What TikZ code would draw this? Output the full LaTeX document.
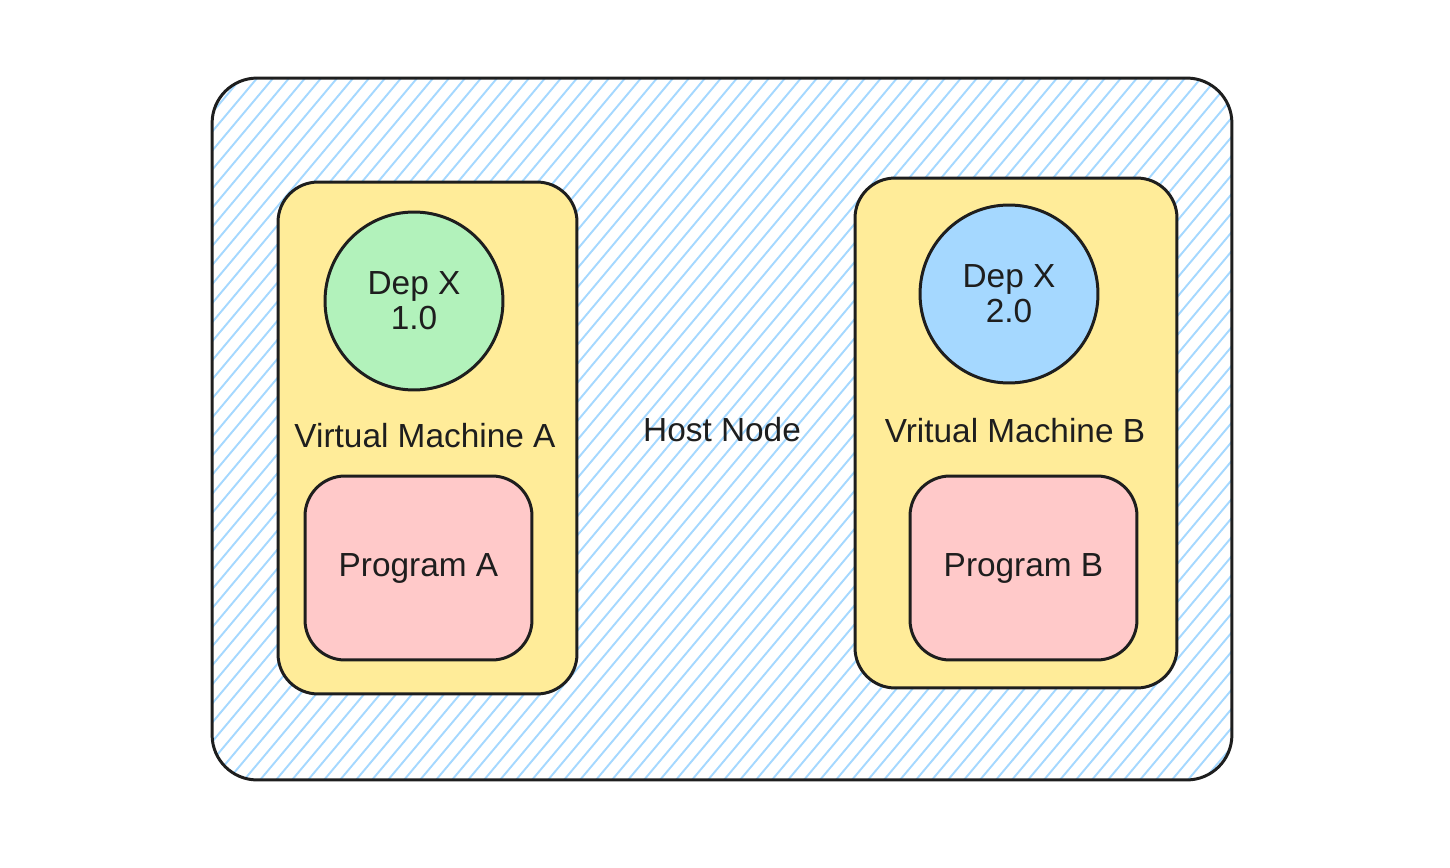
\documentclass[tikz,border=0pt]{standalone}
\usepackage{fontspec}
\setmainfont{Liberation Sans}
\usepackage{tikz}

\definecolor{inkgray}{HTML}{1E1E1E}
\definecolor{hatchblue}{HTML}{A5D8FF}
\definecolor{vmyellow}{HTML}{FFEC99}
\definecolor{depgreen}{HTML}{B2F2BB}
\definecolor{depblue}{HTML}{A5D8FF}
\definecolor{progpink}{HTML}{FFC9C9}

\begin{document}
\begin{tikzpicture}[x=0.02cm,y=-0.02cm,
        every node/.style={font=\fontsize{19}{20}\selectfont, text=inkgray},
        box/.style={draw=inkgray, line width=1.7pt, rounded corners=0.8cm, inner sep=0pt},
        hatch/.style={path picture={
            \foreach \i in {-38,...,66}
                \draw[hatchblue, line width=1.1pt]
                    ([xshift=\i*0.32cm]path picture bounding box.south west) -- ++(50:20cm);
        }},
        dep/.style={draw=inkgray, line width=1.7pt, circle, minimum size=3.56cm, inner sep=0pt, align=center}]
        \useasboundingbox (0,0) rectangle (1450,868);
        \node[box, hatch, rounded corners=0.9cm, minimum width=20.4cm, minimum height=14.04cm] (host) at (722,429) {};
        \node (hostlabel) at (722,430) {Host Node};
        % virtual machine A
        \node[box, fill=vmyellow, minimum width=5.98cm, minimum height=10.24cm] (vmA) at (427.5,438) {};
        \node[dep, fill=depgreen] (depA) at (414,301) {Dep X\\1.0};
        \node (vmAlabel) at (425,436) {Virtual Machine A};
        \node[box, fill=progpink, minimum width=4.54cm, minimum height=3.68cm] (progA) at (418.5,568) {};
        \node (progAlabel) at (progA) {Program A};
        % virtual machine B
        \node[box, fill=vmyellow, minimum width=6.44cm, minimum height=10.2cm] (vmB) at (1016,433) {};
        \node[dep, fill=depblue] (depB) at (1009,294) {Dep X\\2.0};
        \node (vmBlabel) at (1015,431) {Vritual Machine B};
        \node[box, fill=progpink, minimum width=4.54cm, minimum height=3.68cm] (progB) at (1023.5,568) {};
        \node (progBlabel) at (progB) {Program B};
    \end{tikzpicture}
\end{document}
